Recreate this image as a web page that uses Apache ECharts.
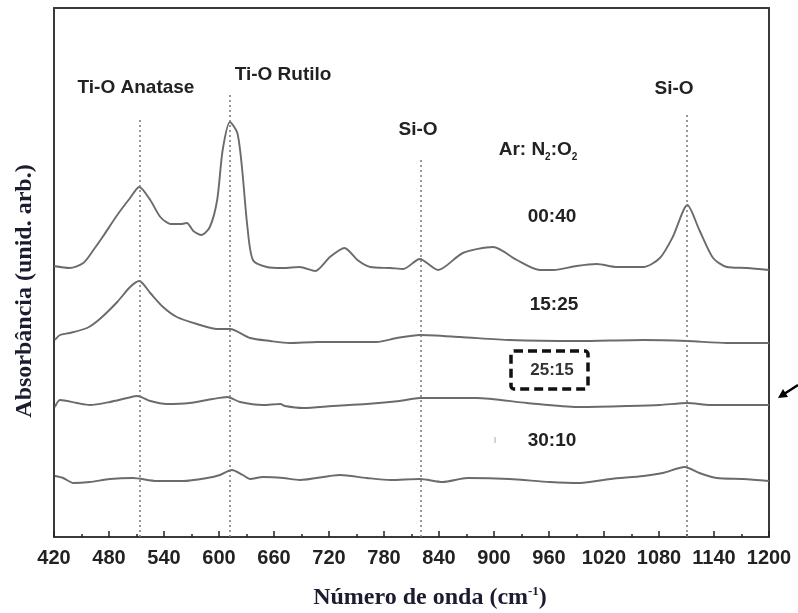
<!DOCTYPE html>
<html>
<head>
<meta charset="utf-8">
<script src="https://cdn.jsdelivr.net/npm/echarts@6/dist/echarts.min.js"></script>
<style>
html,body{margin:0;padding:0;background:#fff;}
#chart{width:798px;height:613px;}
</style>
</head>
<body>
<div id="chart"></div>
<script>
// Wavenumber ticks (cm^-1)
const xTicks = [420, 480, 540, 600, 660, 720, 780, 840, 900, 960, 1020, 1080, 1140, 1200];

// Series: [wavenumber, absorbance (arb. units, offset stacked)]
const s0040 = [[420,271],[437,269],[452,274],[463,287],[473,300],[489,322],[503,339],[513,350],[525,337],[536,320],[547,313],[558,313],[565,314],[572,306],[581,302],[590,310],[598,337],[604,387],[612,415],[620,404],[625,370],[631,310],[637,277],[652,270],[670,269],[688,270],[705,266],[721,280],[737,289],[751,277],[765,270],[787,269],[801,268],[819,278],[839,267],[866,284],[899,290],[925,277],[950,267],[965,267],[990,271],[1012,273],[1034,270],[1063,270],[1081,279],[1095,300],[1111,332],[1124,307],[1139,279],[1154,270],[1176,269],[1200,267]];
const s1525 = [[421,197],[426.5,202],[437,204],[456,209],[470,218],[489,235],[503,250],[513,256],[525,244],[539,230],[554,220],[576,213],[598,208],[612,208],[634,199],[656,196],[677,194],[707,195],[743,195],[772,195],[794,199],[819,202],[863,200],[917,197],[991,196],[1063,197],[1111,196],[1154,194],[1200,194]];
const s2515 = [[421,130],[426.5,137],[445,134],[459,132],[481,135],[500,139],[511,141],[525,136],[543,133],[568,134],[593,138],[609,140],[623,135],[648,132],[667,133],[672,131],[692,129],[724,131],[761,133],[797,136],[819,139],[881,139],[936,134],[991,130],[1045,131],[1081,132],[1111,134],[1136,132],[1200,132]];
const s3010 = [[421,61],[430,59],[441,54],[459,55],[481,58],[506,59],[532,56],[561,56],[587,59],[601,62],[614,67],[626,62],[634,58],[648,60],[670,59],[688,57],[732,62],[761,59],[787,57],[819,58],[844,55],[871,59],[917,58],[961,55],[994,54],[1027,58],[1063,61],[1084,64],[1108,70],[1124,64],[1143,59],[1172,58],[1200,56]];

// Reference band positions [wavenumber, top of dotted line]
const bandLines = [[513,417],[612,442],[820,377],[1110,422]];

const chart = echarts.init(document.getElementById('chart'));
const sans = 'Liberation Sans, Arial, sans-serif';
const serif = 'Liberation Serif, Times New Roman, serif';
const lineColor = '#6b6b6b';
const titleColor = '#1c1c30';

function mkSeries(name, data, extra){
  return Object.assign({
    name, type:'line', data, smooth:0.25, symbol:'none',
    lineStyle:{color:lineColor, width:1.9}, silent:true
  }, extra||{});
}

const markLineData = bandLines.map(b => [{coord:[b[0], b[1]]},{coord:[b[0], 0]}]);

function label(text, x, y, size, color){
  return {type:'text', x, y, style:{text, font:'bold '+size+'px '+sans, fill:color||'#222', align:'center', verticalAlign:'middle'}};
}

chart.setOption({
  animation:false,
  grid:{left:54, right:29, top:8, bottom:76, show:false},
  xAxis:[{
    type:'value', min:420, max:1200, interval:60,
    axisLine:{show:true, onZero:false, lineStyle:{color:'#3a3a3a', width:2}},
    axisTick:{show:true, inside:true, length:6, lineStyle:{color:'#222', width:1.5}},
    minorTick:{show:true, splitNumber:2, length:3, lineStyle:{color:'#222', width:1.5}},
    splitLine:{show:false},
    axisLabel:{color:'#222', fontFamily:sans, fontWeight:'bold', fontSize:20, margin:11,
      formatter: v => xTicks.includes(v) ? String(v) : ''}
  },{
    type:'value', min:420, max:1200, position:'top',
    axisLine:{show:true, onZero:false, lineStyle:{color:'#3a3a3a', width:2}},
    axisTick:{show:false}, axisLabel:{show:false}, splitLine:{show:false}
  }],
  yAxis:[{
    type:'value', min:0, max:529,
    axisLine:{show:true, onZero:false, lineStyle:{color:'#3a3a3a', width:2}},
    axisTick:{show:false}, axisLabel:{show:false}, splitLine:{show:false}
  },{
    type:'value', min:0, max:529, position:'right',
    axisLine:{show:true, onZero:false, lineStyle:{color:'#3a3a3a', width:2}},
    axisTick:{show:false}, axisLabel:{show:false}, splitLine:{show:false}
  }],
  series:[
    mkSeries('00:40', s0040, {markLine:{silent:true, symbol:'none', label:{show:false},
      lineStyle:{color:'#777', type:[2,3], width:1.5}, data:markLineData}}),
    mkSeries('15:25', s1525),
    mkSeries('25:15', s2515),
    mkSeries('30:10', s3010)
  ],
  graphic:[
    // axis titles
    {type:'text', x:430, y:598, style:{
      text:'{a|Número de onda (cm}{s|-1}{a|)}', align:'center', verticalAlign:'middle',
      rich:{a:{font:'bold 24px '+serif, fill:titleColor}, s:{font:'bold 13px '+serif, fill:titleColor, padding:[0,0,12,0]}}
    }},
    {type:'text', x:25, y:291, rotation:Math.PI/2, style:{
      text:'Absorbância (unid. arb.)', font:'bold 24px '+serif, fill:titleColor, align:'center', verticalAlign:'middle'
    }},
    // band labels
    label('Ti-O Anatase', 136, 88, 19),
    label('Ti-O Rutilo', 283, 75, 19),
    label('Si-O', 418, 130, 19),
    label('Si-O', 674, 89, 19),
    {type:'text', x:538, y:150, style:{
      text:'{b|Ar: N}{s|2}{b|:O}{s|2}', align:'center', verticalAlign:'middle',
      rich:{b:{font:'bold 19px '+sans, fill:'#222'}, s:{font:'bold 10px '+sans, fill:'#222', padding:[14,0,0,0]}}
    }},
    label('00:40', 552, 217, 19),
    label('15:25', 554, 305, 19),
    {type:'rect', shape:{x:511, y:351, width:77, height:38, r:3}, style:{fill:'none', stroke:'#111', lineWidth:3.5, lineDash:[9,5]}},
    label('25:15', 552, 370, 17, '#333'),
    label('30:10', 552, 441, 19),
    {type:'line', shape:{x1:495, y1:437, x2:495, y2:443}, style:{stroke:'#aaa', lineWidth:1}},
    // arrow on the right
    {type:'line', shape:{x1:798, y1:385, x2:784, y2:394}, style:{stroke:'#000', lineWidth:2.5}},
    {type:'polygon', shape:{points:[[778,398],[783,389],[788,397]]}, style:{fill:'#000'}}
  ]
});
</script>
</body>
</html>
